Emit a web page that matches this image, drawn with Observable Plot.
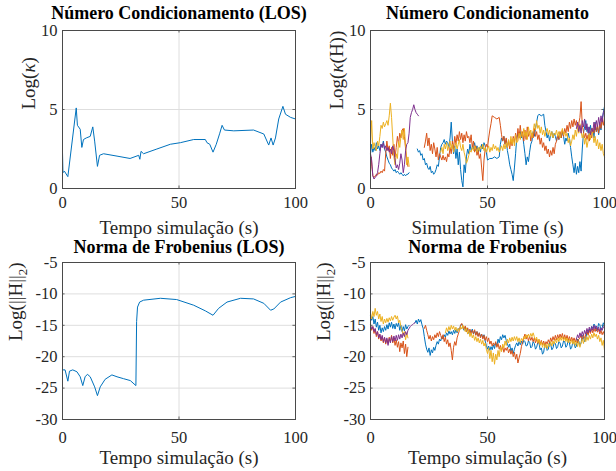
<!DOCTYPE html>
<html>
<head>
<meta charset="utf-8">
<script src="https://cdn.jsdelivr.net/npm/d3@7"></script>
<script src="https://cdn.jsdelivr.net/npm/@observablehq/plot@0.6"></script>
<style>
  html, body { margin: 0; padding: 0; background: #fff; }
  #wrap { position: relative; width: 616px; height: 471px; overflow: hidden; }
  .panel { position: absolute; }
</style>
</head>
<body>
<div id="wrap"></div>
<script>
// ---------------- DATA ----------------
const xTicks = [0, 50, 100];
const yTicksKappa = [0, 5, 10];
const yTicksFrob = [-30, -25, -20, -15, -10, -5];

const titles = ["Número Condicionamento (LOS)", "Número Condicionamento", "Norma de Frobenius (LOS)", "Norma de Frobenius"];
const xLabels = ["Tempo simulação (s)", "Simulation Time (s)", "Tempo simulação (s)", "Tempo simulação (s)"];
const yLabels = ["Log(κ)", "Log(κ(H))", "Log(||H||2)", "Log(||H||2)"];
const seriesColors = ["#0072BD", "#D95319", "#EDB120", "#7E2F8E"];

// Panel 1: condition number, LOS
const kappaLOS = [[0,2.3],[0.2,1.0],[0.8,1.1],[2.3,0.75],[5.9,5.1],[6.4,4.0],[7.6,3.75],[8.3,2.6],[9,3.1],[10.2,3.2],[11.9,3.3],[13,3.9],[13.8,3.0],[15,1.4],[15.9,2.1],[17.6,2.2],[23.4,2.05],[29,1.9],[32.7,2.1],[33.2,1.85],[33.7,2.35],[34.8,2.2],[40.5,2.5],[46.3,2.8],[50.6,2.9],[56.3,3.1],[61.3,3.1],[62,2.9],[63.2,2.8],[64.6,2.3],[66,2.8],[67.5,3.5],[68.5,4.0],[69.5,3.7],[73.5,3.65],[82,3.7],[86.4,3.45],[88.5,2.75],[89.5,3.2],[90.4,2.75],[91.4,3.2],[92.8,4.4],[94.6,5.2],[95.7,4.7],[97.9,4.5],[100,4.4]];

// Panel 2: condition number, four series
const kappaBlue = [[0,2.2],[0.5,2.8],[1,2.3],[1.5,2.6],[2,2.4],[2.5,2.9],[3,2.5],[3.5,2.7],[4,2.4],[4.5,2.8],[5,2.6],[5.5,3.0],[6,2.5],[6.5,2.3],[7,2.0],[7.5,1.8],[8,1.6],[8.5,1.5],[9,1.3],[9.5,1.2],[10,1.1],[10.5,1.2],[11,1.0],[11.5,1.1],[12,1.0],[12.5,0.9],[13,1.0],[13.5,0.9],[14,0.8],[14.5,0.9],[15,0.8],[15.5,0.9],[16,0.9],[16.5,1.0],[17,null],
[20,2.5],[20.5,2.3],[21,2.4],[21.5,2.1],[22,2.2],[22.5,1.8],[23,1.9],[23.5,1.5],[24,1.6],[24.5,1.3],[25,1.2],[25.5,1.4],[26,1.0],[26.5,1.1],[27,0.9],[27.5,1.0],[28,1.2],[28.5,1.5],[29,1.4],[29.5,2.0],[30,2.6],[30.5,2.8],[31,2.9],[31.5,3.1],[32,2.8],[32.5,3.0],[33,2.9],[33.5,2.6],[34,3.2],[34.5,4.2],[35,3.0],[35.5,2.2],[36,2.7],[36.5,1.9],[37,2.5],[37.5,1.5],[38,2.3],[38.5,1.2],[39,0.5],[39.5,0.1],[40,1.5],[40.5,1.0],[41,2.0],[41.5,2.5],[42,2.2],[42.5,2.8],[43,2.4],[43.5,2.6],[44,2.5],[44.5,2.9],[45,2.4],[45.5,2.7],[46,2.3],[46.5,2.6],[47,2.3],[47.5,2.8],[48,2.5],[48.5,2.9],[49,2.7],[49.5,2.3],[50,1.8],[51,1.9],[52,1.9],[53,2.0],[54,1.9],[55,2.0],[55.5,2.8],[56,3.2],[56.5,3.0],[57,3.3],[57.5,2.8],[58,3.1],[58.5,2.4],[59,2.0],[59.5,1.5],[60,1.2],[60.5,0.9],[61,0.5],[61.5,1.3],[62,2.2],[62.5,3.2],[63,3.5],[63.5,3.3],[64,3.6],[64.5,3.2],[65,3.4],[65.5,2.8],[66,2.2],[66.5,1.5],[67,2.0],[67.5,1.7],[68,2.3],[68.5,2.8],[69,3.0],[69.5,3.6],[70,3.3],[70.5,3.8],[71,4.2],[71.5,4.6],[72,4.7],[73,4.6],[74,4.7],[74.5,4.0],[75,3.6],[75.5,3.2],[76,3.5],[76.5,3.0],[77,3.4],[77.5,3.6],[78,3.2],[78.5,3.5],[79,3.3],[79.5,3.0],[80,3.4],[80.5,3.1],[81,3.5],[81.5,3.2],[82,3.6],[82.5,3.3],[83,2.8],[83.5,3.2],[84,3.0],[84.5,3.5],[85,3.2],[85.5,2.6],[86,2.0],[86.5,1.5],[87,1.0],[87.5,1.6],[88,0.9],[88.5,1.4],[89,1.0],[89.5,1.7],[90,1.1],[90.5,2.5],[91,3.5],[91.5,3.9],[92,4.3],[92.5,3.6],[93,3.9],[93.5,3.3],[94,4.0],[94.5,3.5],[95,3.8],[95.5,3.2],[96,4.2],[96.5,3.6],[97,3.9],[97.5,3.4],[98,4.0],[98.5,3.7],[99,4.4],[99.5,4.8],[100,5.2]];

const kappaRed = [[0,1.2],[0.3,2.0],[0.6,1.4],[1,0.8],[1.5,0.7],[2,0.8],[2.5,0.9],[3,0.85],[3.5,1.0],[4,0.95],[4.5,1.1],[5,1.0],[5.5,1.2],[6,1.1],[6.5,2.2],[7,3.0],[7.5,2.4],[8,2.7],[8.5,1.9],[9,2.6],[9.5,2.1],[10,2.8],[10.5,2.0],[11,2.6],[11.5,3.3],[12,2.8],[12.5,3.5],[13,3.2],[13.5,3.7],[14,3.8],[14.5,3.3],[15,2.5],[15.5,1.8],[16,1.4],[16.5,null],
[23,2.6],[23.5,3.0],[24,3.5],[24.5,2.7],[25,3.2],[25.5,2.4],[26,2.8],[26.5,2.2],[27,2.9],[27.5,2.5],[28,2.0],[28.5,2.6],[29,1.8],[29.5,2.2],[30,2.0],[30.5,1.8],[31,2.1],[31.5,1.8],[32,2.0],[32.5,1.7],[33,2.2],[33.5,2.0],[34,2.6],[34.5,2.2],[35,3.0],[35.5,2.5],[36,3.3],[36.5,2.8],[37,3.4],[37.5,3.0],[38,3.6],[38.5,3.1],[39,3.5],[39.5,2.9],[40,3.4],[40.5,3.0],[41,3.6],[41.5,3.2],[42,3.3],[42.5,2.9],[43,3.4],[43.5,2.6],[44,3.0],[44.5,2.3],[45,2.7],[45.5,2.1],[46,2.4],[46.5,1.9],[47,2.2],[47.5,1.3],[48,0.5],[48.5,1.8],[49,2.5],[49.5,2.8],[50,2.6],[50.5,3.2],[51,3.7],[51.5,4.1],[52,4.6],[53,4.5],[54,4.4],[55,4.5],[55.5,4.0],[56,3.4],[56.5,3.0],[57,3.3],[57.5,2.8],[58,3.2],[58.5,2.6],[59,3.0],[59.5,2.5],[60,3.1],[60.5,2.7],[61,3.3],[61.5,2.9],[62,3.5],[62.5,3.0],[63,3.8],[63.5,3.2],[64,4.0],[64.5,3.3],[65,3.6],[65.5,3.0],[66,3.7],[66.5,3.1],[67,3.9],[67.5,3.3],[68,3.6],[68.5,3.0],[69,3.5],[69.5,3.2],[70,3.8],[70.5,3.3],[71,3.6],[71.5,3.1],[72,3.4],[72.5,2.8],[73,3.2],[73.5,2.6],[74,2.9],[74.5,2.4],[75,2.7],[75.5,2.2],[76,2.5],[76.5,2.0],[77,2.4],[77.5,2.1],[78,2.6],[78.5,2.2],[79,2.8],[79.5,3.0],[80,3.4],[80.5,3.1],[81,3.6],[81.5,3.2],[82,3.7],[82.5,3.3],[83,3.8],[83.5,3.5],[84,4.0],[84.5,3.6],[85,4.2],[85.5,3.8],[86,4.3],[86.5,3.9],[87,4.4],[87.5,4.0],[88,4.3],[88.5,3.8],[89,4.1],[89.5,4.5],[90,5.5],[90.5,4.0],[91,3.6],[91.5,3.2],[92,3.5],[92.5,3.1],[93,3.4],[93.5,3.0],[94,3.6],[94.5,3.2],[95,3.8],[95.5,3.5],[96,4.1],[96.5,3.6],[97,4.0],[97.5,3.5],[98,4.2],[98.5,3.8],[99,4.4],[99.5,4.0],[100,4.5]];

const kappaYellow = [[0,2.8],[0.5,4.3],[1,2.5],[1.5,2.9],[2,2.6],[2.5,2.4],[3,3.0],[3.5,2.7],[4,3.3],[4.5,4.0],[5,3.8],[5.5,4.2],[6,3.9],[6.5,4.1],[7,4.3],[7.5,4.0],[8,4.6],[8.5,5.4],[9,4.5],[9.5,3.2],[10,2.0],[10.5,1.5],[11,2.2],[11.5,1.9],[12,3.0],[12.5,2.6],[13,3.3],[13.5,3.7],[14,3.1],[14.5,3.8],[15,2.6],[15.5,1.5],[16,2.0],[16.5,1.4],[17,null],
[30,2.3],[30.5,2.6],[31,2.2],[31.5,2.8],[32,2.5],[32.5,2.9],[33,2.4],[33.5,2.7],[34,3.0],[34.5,2.5],[35,2.8],[35.5,2.3],[36,2.6],[36.5,2.9],[37,2.5],[37.5,2.8],[38,3.1],[38.5,2.6],[39,2.4],[39.5,2.8],[40,2.3],[40.5,2.0],[41,1.6],[41.5,1.8],[42,2.1],[42.5,2.4],[43,2.3],[43.5,2.6],[44,2.4],[44.5,2.7],[45,2.5],[45.5,2.3],[46,2.6],[46.5,2.4],[47,2.7],[47.5,2.5],[48,2.8],[48.5,2.4],[49,2.6],[49.5,2.3],[50,2.5],[50.5,2.7],[51,2.3],[51.5,2.6],[52,2.4],[52.5,2.8],[53,2.5],[53.5,2.7],[54,2.4],[54.5,2.6],[55,2.3],[55.5,2.5],[56,2.7],[56.5,2.4],[57,2.8],[57.5,2.5],[58,2.9],[58.5,2.6],[59,3.1],[59.5,2.7],[60,3.3],[60.5,2.8],[61,3.2],[61.5,2.7],[62,3.4],[62.5,2.9],[63,3.0],[63.5,3.5],[64,3.1],[64.5,3.6],[65,3.2],[65.5,3.8],[66,3.3],[66.5,3.6],[67,3.1],[67.5,3.9],[68,3.4],[68.5,3.7],[69,3.2],[69.5,3.6],[70,4.1],[70.5,3.7],[71,4.3],[71.5,3.8],[72,4.0],[72.5,3.5],[73,3.9],[73.5,3.4],[74,3.7],[74.5,3.3],[75,3.6],[75.5,3.8],[76,3.4],[76.5,3.7],[77,3.3],[77.5,3.6],[78,3.2],[78.5,3.5],[79,3.4],[79.5,3.7],[80,3.3],[80.5,3.6],[81,3.2],[81.5,3.5],[82,3.8],[82.5,3.4],[83,3.6],[83.5,3.3],[84,3.5],[84.5,2.9],[85,3.2],[85.5,2.7],[86,3.0],[86.5,3.4],[87,3.1],[87.5,3.7],[88,3.3],[88.5,3.9],[89,3.5],[89.5,4.1],[90,3.6],[90.5,3.2],[91,3.5],[91.5,2.8],[92,3.2],[92.5,2.6],[93,3.0],[93.5,3.5],[94,3.1],[94.5,3.8],[95,3.4],[95.5,2.9],[96,3.3],[96.5,2.7],[97,3.1],[97.5,2.5],[98,2.9],[98.5,2.4],[99,2.8],[99.5,2.2],[100,2.0]];

const kappaPurple = [[0,2.2],[0.5,1.8],[1,0.8],[1.5,0.6],[2,0.7],[2.5,0.8],[3,1.0],[3.5,1.5],[4,2.2],[4.5,2.8],[5,2.6],[5.5,2.9],[6,2.5],[6.5,2.7],[7,2.4],[7.5,2.6],[8,2.3],[8.5,2.5],[9,2.2],[9.5,2.7],[10,2.4],[10.5,1.8],[11,1.3],[11.5,1.5],[12,1.2],[12.5,1.6],[13,2.2],[13.5,1.8],[14,1.0],[14.5,1.5],[15,2.4],[15.5,2.8],[16,2.9],[16.5,3.5],[17,4.5],[17.5,4.8],[18,5.0],[18.5,5.3],[19,5.0],[19.5,4.8],[20,4.7],[20.5,4.6],[21,null],
[88,3.8],[88.5,4.2],[89,3.6],[89.5,4.0],[90,3.5],[90.5,4.3],[91,3.9],[91.5,4.4],[92,3.7],[92.5,4.1],[93,3.5],[93.5,3.9],[94,3.4],[94.5,3.8],[95,3.6],[95.5,4.2],[96,3.7],[96.5,4.3],[97,3.9],[97.5,4.5],[98,4.0],[98.5,4.6],[99,4.2],[99.5,4.8],[100,5.0]];

// Panel 3: Frobenius norm, LOS
const frobLOS = [[0,-22.1],[1.1,-22.1],[2.3,-23.9],[3,-22.3],[4.4,-22.1],[6.2,-22.4],[7.6,-23.2],[8.7,-24.6],[9.7,-23.2],[10.7,-22.8],[11.9,-23.2],[13.8,-24.8],[15,-26.2],[16.2,-24.8],[18.3,-23.6],[21.2,-22.9],[23.4,-23.2],[26.2,-23.5],[29.1,-23.8],[31.5,-24.6],[31.8,-14.4],[32.2,-12.1],[33.1,-11.3],[34.8,-11.0],[42,-10.7],[49,-10.9],[56.3,-11.8],[61.3,-12.7],[64.6,-13.4],[67,-12.3],[70.6,-11.3],[76.4,-10.7],[82,-10.8],[86.4,-11.5],[89.3,-12.6],[90.7,-12.4],[93.6,-11.3],[97.9,-10.6],[100,-10.4]];

// Panel 4: Frobenius norm, four series
const frobBlue = [[0,-13.5],[0.5,-14.2],[1,-13.6],[1.5,-14.8],[2,-14.0],[2.5,-15.3],[3,-14.5],[3.5,-15.8],[4,-15.0],[4.5,-16.2],[5,-15.4],[5.5,-16.0],[6,-15.2],[6.5,-15.8],[7,-14.9],[7.5,-15.6],[8,-14.6],[8.5,-15.3],[9,-14.5],[9.5,-15.5],[10,-14.8],[10.5,-15.6],[11,-14.7],[11.5,-15.2],[12,-14.6],[12.5,-15.8],[13,-15.0],[13.5,-16.0],[14,-15.2],[14.5,-15.9],[15,-14.9],[15.5,-15.6],[16,-15.2],[16.5,-15.0],[17,null],
[19,-14.6],[19.5,-14.2],[20,-14.8],[20.5,-14.0],[21,-14.5],[21.5,-14.1],[22,-14.9],[22.5,-15.5],[23,-16.8],[23.5,-18.0],[24,-18.8],[24.5,-19.3],[25,-18.6],[25.5,-19.8],[26,-18.9],[26.5,-19.4],[27,-18.5],[27.5,-19.0],[28,-18.2],[28.5,-17.6],[29,-18.0],[29.5,-17.2],[30,-17.5],[30.5,-16.8],[31,-17.2],[31.5,-16.5],[32,-16.9],[32.5,-16.2],[33,-16.6],[33.5,-15.9],[34,-16.4],[34.5,-16.0],[35,-16.5],[35.5,-15.8],[36,-16.3],[36.5,-15.7],[37,-16.2],[37.5,-15.5],[38,-15.9],[38.5,-15.0],[39,-14.8],[39.5,-15.4],[40,-15.8],[40.5,-15.3],[41,-16.0],[41.5,-15.5],[42,-16.3],[42.5,-15.8],[43,-16.1],[43.5,-15.6],[44,-16.4],[44.5,-15.9],[45,-16.5],[45.5,-16.0],[46,-16.7],[46.5,-16.2],[47,-16.8],[47.5,-16.4],[48,-17.0],[48.5,-16.5],[49,-17.5],[49.5,-18.2],[50,-18.8],[50.5,-18.3],[51,-19.0],[51.5,-18.4],[52,-18.9],[52.5,-18.1],[53,-18.7],[53.5,-17.8],[54,-18.3],[54.5,-17.2],[55,-17.8],[55.5,-16.8],[56,-17.3],[56.5,-16.5],[57,-17.0],[57.5,-16.6],[58,-17.4],[58.5,-17.9],[59,-18.5],[59.5,-18.0],[60,-19.2],[60.5,-18.6],[61,-19.5],[61.5,-18.8],[62,-18.2],[62.5,-17.8],[63,-18.3],[63.5,-17.6],[64,-18.1],[64.5,-17.5],[65,-18.0],[65.5,-17.4],[66,-17.6],[66.5,-18.3],[67,-18.2],[67.5,-17.5],[68,-17.7],[68.5,-18.6],[69,-18.4],[69.5,-17.6],[70,-17.9],[70.5,-18.8],[71,-18.5],[71.5,-17.7],[72,-17.8],[72.5,-18.9],[73,-18.6],[73.5,-19.6],[74,-19.3],[74.5,-18.0],[75,-18.2],[75.5,-19.0],[76,-18.8],[76.5,-17.8],[77,-18.0],[77.5,-18.9],[78,-18.6],[78.5,-17.7],[79,-17.9],[79.5,-18.7],[80,-18.4],[80.5,-17.6],[81,-17.8],[81.5,-18.6],[82,-18.3],[82.5,-17.5],[83,-17.6],[83.5,-18.5],[84,-18.2],[84.5,-17.4],[85,-17.8],[85.5,-18.8],[86,-18.5],[86.5,-17.6],[87,-17.9],[87.5,-18.6],[88,-18.3],[88.5,-17.2],[89,-17.5],[89.5,-18.2],[90,-17.8],[90.5,-16.6],[91,-16.9],[91.5,-17.6],[92,-17.2],[92.5,-16.0],[93,-16.4],[93.5,-15.6],[94,-16.0],[94.5,-15.2],[95,-15.5],[95.5,-14.8],[96,-15.1],[96.5,-15.9],[97,-15.6],[97.5,-14.7],[98,-14.9],[98.5,-15.8],[99,-15.4],[99.5,-14.6],[100,-15.0]];

const frobRed = [[0,-15.0],[0.5,-15.8],[1,-15.2],[1.5,-16.3],[2,-15.6],[2.5,-16.8],[3,-16.0],[3.5,-17.2],[4,-16.5],[4.5,-17.5],[5,-16.8],[5.5,-17.8],[6,-17.0],[6.5,-18.0],[7,-17.2],[7.5,-17.9],[8,-16.9],[8.5,-17.6],[9,-16.6],[9.5,-17.8],[10,-17.0],[10.5,-18.2],[11,-17.3],[11.5,-18.5],[12,-17.6],[12.5,-19.2],[13,-17.8],[13.5,-18.6],[14,-17.5],[14.5,-19.5],[15,-18.0],[15.5,-20.0],[16,-18.5],[16.5,null],
[23,-15.5],[23.5,-15.0],[24,-15.8],[24.5,-16.5],[25,-17.2],[25.5,-16.6],[26,-17.5],[26.5,-16.8],[27,-17.3],[27.5,-16.5],[28,-17.0],[28.5,-16.2],[29,-16.8],[29.5,-16.0],[30,-16.6],[30.5,-17.2],[31,-16.5],[31.5,-17.6],[32,-16.9],[32.5,-18.0],[33,-17.3],[33.5,-18.4],[34,-17.8],[34.5,-19.0],[35,-20.5],[35.5,-18.5],[36,-17.6],[36.5,-18.2],[37,-17.0],[37.5,-16.4],[38,-15.8],[38.5,-15.0],[39,-14.7],[39.5,-15.2],[40,-15.6],[40.5,-15.1],[41,-16.0],[41.5,-15.4],[42,-16.2],[42.5,-15.6],[43,-16.5],[43.5,-15.8],[44,-16.3],[44.5,-15.7],[45,-16.6],[45.5,-16.0],[46,-16.8],[46.5,-16.2],[47,-17.0],[47.5,-16.4],[48,-17.2],[48.5,-16.6],[49,-17.4],[49.5,-16.8],[50,-17.6],[50.5,-17.0],[51,-18.0],[51.5,-17.5],[52,-18.3],[52.5,-17.8],[53,-18.2],[53.5,-17.6],[54,-18.5],[54.5,-17.9],[55,-18.8],[55.5,-18.2],[56,-19.0],[56.5,-18.4],[57,-19.3],[57.5,-18.6],[58,-19.0],[58.5,-18.5],[59,-19.4],[59.5,-18.8],[60,-19.6],[60.5,-19.0],[61,-20.0],[61.5,-19.3],[62,-20.4],[62.5,-19.6],[63,-21.0],[63.5,-20.2],[64,-19.5],[64.5,-18.4],[65,-17.6],[65.5,-17.0],[66,-16.4],[66.5,-17.2],[67,-16.6],[67.5,-17.5],[68,-16.8],[68.5,-17.4],[69,-16.9],[69.5,-17.6],[70,-17.0],[70.5,-17.8],[71,-17.2],[71.5,-17.9],[72,-17.3],[72.5,-18.0],[73,-17.4],[73.5,-18.1],[74,-17.5],[74.5,-18.2],[75,-17.6],[75.5,-18.0],[76,-17.3],[76.5,-17.8],[77,-17.0],[77.5,-17.6],[78,-16.8],[78.5,-17.4],[79,-16.6],[79.5,-17.3],[80,-16.5],[80.5,-17.1],[81,-16.4],[81.5,-17.0],[82,-16.3],[82.5,-17.2],[83,-16.5],[83.5,-17.3],[84,-16.6],[84.5,-17.4],[85,-16.8],[85.5,-17.5],[86,-16.9],[86.5,-17.6],[87,-17.0],[87.5,-17.7],[88,-17.1],[88.5,-17.8],[89,-17.2],[89.5,-17.0],[90,-16.6],[90.5,-17.3],[91,-16.5],[91.5,-17.2],[92,-16.4],[92.5,-16.0],[93,-16.6],[93.5,-15.8],[94,-16.3],[94.5,-15.6],[95,-16.2],[95.5,-15.5],[96,-16.0],[96.5,-15.4],[97,-16.1],[97.5,-15.6],[98,-16.4],[98.5,-15.8],[99,-16.5],[99.5,-16.0],[100,-16.6]];

const frobYellow = [[0,-13.0],[0.5,-14.0],[1,-12.8],[1.5,-13.6],[2,-12.3],[2.5,-13.4],[3,-12.8],[3.5,-14.0],[4,-13.2],[4.5,-14.4],[5,-13.6],[5.5,-14.8],[6,-14.0],[6.5,-14.6],[7,-13.9],[7.5,-14.5],[8,-13.8],[8.5,-14.3],[9,-13.6],[9.5,-14.2],[10,-13.7],[10.5,-13.4],[11,-14.0],[11.5,-13.5],[12,-14.6],[12.5,-14.2],[13,-15.2],[13.5,-15.8],[14,-16.6],[14.5,-16.0],[15,-17.3],[15.5,-16.2],[16,-17.0],[16.5,null],
[32,-16.2],[32.5,-15.4],[33,-16.0],[33.5,-15.2],[34,-15.8],[34.5,-15.0],[35,-15.6],[35.5,-15.1],[36,-15.8],[36.5,-15.3],[37,-16.0],[37.5,-15.5],[38,-15.9],[38.5,-15.2],[39,-15.6],[39.5,-15.0],[40,-15.5],[40.5,-16.0],[41,-15.4],[41.5,-16.4],[42,-15.8],[42.5,-16.8],[43,-16.2],[43.5,-17.0],[44,-16.5],[44.5,-17.4],[45,-16.8],[45.5,-17.6],[46,-17.0],[46.5,-17.8],[47,-17.2],[47.5,-18.0],[48,-17.4],[48.5,-18.3],[49,-17.8],[49.5,-18.8],[50,-19.5],[50.5,-18.6],[51,-20.3],[51.5,-19.0],[52,-20.8],[52.5,-19.4],[53,-21.2],[53.5,-19.6],[54,-20.5],[54.5,-19.0],[55,-20.0],[55.5,-18.5],[56,-19.2],[56.5,-18.0],[57,-18.6],[57.5,-17.5],[58,-18.2],[58.5,-17.2],[59,-17.8],[59.5,-17.0],[60,-17.6],[60.5,-16.9],[61,-17.5],[61.5,-16.8],[62,-17.4],[62.5,-16.8],[63,-17.6],[63.5,-17.0],[64,-17.8],[64.5,-17.1],[65,-17.5],[65.5,-16.8],[66,-17.2],[66.5,-16.5],[67,-17.0],[67.5,-16.4],[68,-16.9],[68.5,-16.3],[69,-16.8],[69.5,-16.2],[70,-16.8],[70.5,-17.4],[71,-16.9],[71.5,-17.8],[72,-17.2],[72.5,-18.2],[73,-17.6],[73.5,-18.5],[74,-17.8],[74.5,-18.6],[75,-18.0],[75.5,-18.7],[76,-17.9],[76.5,-18.4],[77,-17.6],[77.5,-18.3],[78,-17.5],[78.5,-18.0],[79,-17.2],[79.5,-17.8],[80,-17.0],[80.5,-17.6],[81,-16.9],[81.5,-17.4],[82,-16.8],[82.5,-17.5],[83,-16.9],[83.5,-17.6],[84,-17.0],[84.5,-17.8],[85,-17.2],[85.5,-17.9],[86,-17.3],[86.5,-18.0],[87,-17.4],[87.5,-18.2],[88,-17.5],[88.5,-18.4],[89,-17.6],[89.5,-18.5],[90,-17.8],[90.5,-17.2],[91,-17.9],[91.5,-17.0],[92,-17.6],[92.5,-16.8],[93,-17.4],[93.5,-16.6],[94,-17.2],[94.5,-16.4],[95,-17.0],[95.5,-16.2],[96,-16.8],[96.5,-16.4],[97,-17.2],[97.5,-16.6],[98,-17.6],[98.5,-17.0],[99,-18.2],[99.5,-17.4],[100,-19.0]];

const frobPurple = [[0,-15.0],[0.5,-15.6],[1,-15.2],[1.5,-16.0],[2,-15.5],[2.5,-16.5],[3,-16.0],[3.5,-17.0],[4,-16.4],[4.5,-17.3],[5,-16.6],[5.5,-17.6],[6,-16.9],[6.5,-17.8],[7,-17.0],[7.5,-18.2],[8,-17.1],[8.5,-17.8],[9,-16.8],[9.5,-17.6],[10,-16.7],[10.5,-17.5],[11,-16.6],[11.5,-17.4],[12,-16.5],[12.5,-17.2],[13,-16.4],[13.5,-17.0],[14,-16.2],[14.5,-16.8],[15,-16.0],[15.5,-16.5],[16,-15.8],[16.5,-15.5],[17,-15.2],[17.5,-15.0],[18,-14.9],[18.5,-14.7],[19,-14.6],[19.5,null],
[88,-17.2],[88.5,-16.5],[89,-17.0],[89.5,-16.2],[90,-16.8],[90.5,-16.0],[91,-16.6],[91.5,-15.8],[92,-16.4],[92.5,-15.5],[93,-16.2],[93.5,-15.3],[94,-16.0],[94.5,-15.2],[95,-15.8],[95.5,-15.0],[96,-15.6],[96.5,-15.1],[97,-15.8],[97.5,-15.3],[98,-16.0],[98.5,-15.4],[99,-15.8],[99.5,-15.2],[100,-15.5]];

// ---------------- RENDER ----------------
const FONT = "'Liberation Serif', 'Times New Roman', serif";
const TXT = "#262626";

function panel({left, top, width, height, mt, mb, ml, mr, yDomain, yTicks, series, title, xLabel, yLabel, tickPadX, xLabelDy, titleDy, yLabelDx}) {
  const span = yDomain[1] - yDomain[0];
  const tickLenY = span * 0.016;
  const tickLenX = 100 * 0.011;
  const marks = [
    Plot.gridX(xTicks, {stroke: "#dedede", strokeOpacity: 1, strokeWidth: 1}),
    Plot.gridY(yTicks, {stroke: "#dedede", strokeOpacity: 1, strokeWidth: 1}),
    // inward tick marks (MATLAB style)
    Plot.ruleX(xTicks, {x: d => d, y1: yDomain[0], y2: yDomain[0] + tickLenY, stroke: "#404040", strokeWidth: 0.8}),
    Plot.ruleX(xTicks, {x: d => d, y1: yDomain[1], y2: yDomain[1] - tickLenY, stroke: "#404040", strokeWidth: 0.8}),
    Plot.ruleY(yTicks, {y: d => d, x1: 0, x2: tickLenX, stroke: "#404040", strokeWidth: 0.8}),
    Plot.ruleY(yTicks, {y: d => d, x1: 100, x2: 100 - tickLenX, stroke: "#404040", strokeWidth: 0.8}),
  ];
  series.forEach(([data, color]) => {
    marks.push(Plot.line(data, {x: d => d[0], y: d => d[1], stroke: color, strokeWidth: 1, strokeLinejoin: "round"}));
  });
  marks.push(
    Plot.frame({stroke: "#4a4a4a", strokeWidth: 1}),
    Plot.axisX({ticks: xTicks, tickSize: 0, tickPadding: tickPadX, label: null, fontSize: 16.5, fill: TXT}),
    Plot.axisY({ticks: yTicks, tickSize: 0, tickPadding: 5, label: null, fontSize: 16.5, fill: TXT, tickFormat: d => String(d)}),
    Plot.text([title], {frameAnchor: "top", dy: titleDy, text: d => d, fontSize: 18, fontWeight: "bold", fill: "#000", lineAnchor: "middle"}),
    Plot.text([xLabel], {frameAnchor: "bottom", dy: xLabelDy, text: d => d, fontSize: 19, fill: TXT, lineAnchor: "middle"}),
    Plot.text([yLabel], {frameAnchor: "left", dx: yLabelDx, rotate: -90, text: d => d, fontSize: 19, fill: TXT, lineAnchor: "middle"})
  );
  const svg = Plot.plot({
    width, height,
    marginTop: mt, marginBottom: mb, marginLeft: ml, marginRight: mr,
    x: {domain: [0, 100]},
    y: {domain: yDomain},
    style: {fontFamily: FONT, fontSize: "16px", color: TXT, background: "transparent", overflow: "visible"},
    marks
  });
  // Rich-text details in the y label: italic kappa, subscript 2
  d3.select(svg).selectAll("text").each(function() {
    const t = this.textContent;
    if (t === "Log(κ)") this.innerHTML = 'Log(<tspan font-style="italic">κ</tspan>)';
    else if (t === "Log(κ(H))") this.innerHTML = 'Log(<tspan font-style="italic">κ</tspan>(H))';
    else if (t === "Log(||H||2)") this.innerHTML = 'Log(||H||<tspan dy="5" font-size="13">2</tspan><tspan dy="-5">)</tspan>';
  });
  const div = document.createElement("div");
  div.className = "panel";
  div.style.left = left + "px";
  div.style.top = top + "px";
  div.appendChild(svg);
  document.getElementById("wrap").appendChild(div);
}

panel({left: 0, top: 0, width: 308, height: 235, mt: 30, mb: 47, ml: 62, mr: 13,
  yDomain: [0, 10], yTicks: yTicksKappa, series: [[kappaLOS, seriesColors[0]]],
  title: titles[0], xLabel: xLabels[0], yLabel: yLabels[0], tickPadX: 8, xLabelDy: 39, titleDy: -17.5, yLabelDx: -34});

panel({left: 308, top: 0, width: 308, height: 235, mt: 30, mb: 47, ml: 62, mr: 12,
  yDomain: [0, 10], yTicks: yTicksKappa,
  series: [[kappaBlue, seriesColors[0]], [kappaRed, seriesColors[1]], [kappaYellow, seriesColors[2]], [kappaPurple, seriesColors[3]]],
  title: titles[1], xLabel: xLabels[1], yLabel: yLabels[1], tickPadX: 8, xLabelDy: 39, titleDy: -17.5, yLabelDx: -34});

panel({left: 0, top: 235, width: 308, height: 236, mt: 27, mb: 52, ml: 62, mr: 13,
  yDomain: [-30, -5], yTicks: yTicksFrob, series: [[frobLOS, seriesColors[0]]],
  title: titles[2], xLabel: xLabels[2], yLabel: yLabels[2], tickPadX: 12, xLabelDy: 38, titleDy: -15, yLabelDx: -47});

panel({left: 308, top: 235, width: 308, height: 236, mt: 27, mb: 52, ml: 62, mr: 12,
  yDomain: [-30, -5], yTicks: yTicksFrob,
  series: [[frobBlue, seriesColors[0]], [frobRed, seriesColors[1]], [frobYellow, seriesColors[2]], [frobPurple, seriesColors[3]]],
  title: titles[3], xLabel: xLabels[3], yLabel: yLabels[3], tickPadX: 12, xLabelDy: 38, titleDy: -15, yLabelDx: -47});
</script>
</body>
</html>
